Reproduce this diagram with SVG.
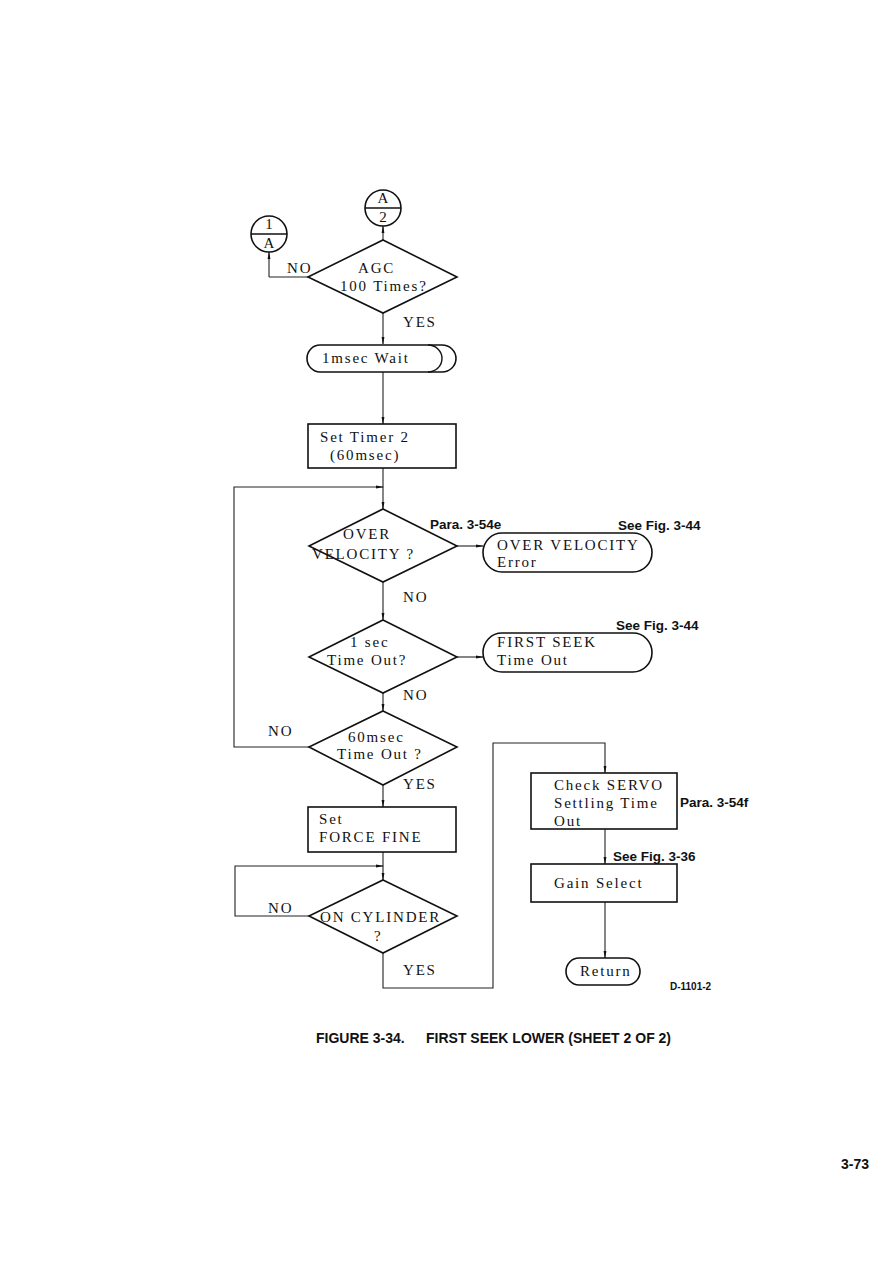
<svg xmlns="http://www.w3.org/2000/svg" width="893" height="1262" viewBox="0 0 893 1262">
<defs>
<marker id="arr" markerWidth="8" markerHeight="4" refX="7" refY="2" orient="auto" markerUnits="userSpaceOnUse">
<path d="M0,0.6 L8,2 L0,3.4 z" fill="#111"/>
</marker>
<style>
.s{fill:none;stroke:#111;stroke-width:1.4}
.b{fill:#fff;stroke:#111;stroke-width:1.6}
.c{fill:none;stroke:#222;stroke-width:1.1}
.t{font-family:"Liberation Serif",serif;font-size:15px;fill:#111;letter-spacing:1.8px}
.n{font-family:"Liberation Serif",serif;font-size:15px;fill:#111}
.l{font-family:"Liberation Sans",sans-serif;font-size:13.5px;font-weight:bold;fill:#111}
.cap{font-family:"Liberation Sans",sans-serif;font-size:14px;font-weight:bold;fill:#111}
</style>
</defs>
<rect width="893" height="1262" fill="#fff"/>

<g id="connectors">
<path class="c" d="M269,277 V252" marker-end="url(#arr)"/>
<path class="c" d="M269,277 H308"/>
<path class="c" d="M383,240 V226" marker-end="url(#arr)"/>
<path class="c" d="M383,313 V344" marker-end="url(#arr)"/>
<path class="c" d="M383,372 V424" marker-end="url(#arr)"/>
<path class="c" d="M383,468 V509" marker-end="url(#arr)"/>
<path class="c" d="M309,747 H234 V487 H383" marker-end="url(#arr)"/>
<path class="c" d="M457,546 H483" marker-end="url(#arr)"/>
<path class="c" d="M383,582 V620" marker-end="url(#arr)"/>
<path class="c" d="M457,657 H483" marker-end="url(#arr)"/>
<path class="c" d="M383,693 V711" marker-end="url(#arr)"/>
<path class="c" d="M383,785 V807" marker-end="url(#arr)"/>
<path class="c" d="M383,852 V880" marker-end="url(#arr)"/>
<path class="c" d="M309,916 H235 V866 H383" marker-end="url(#arr)"/>
<path class="c" d="M383,953 V988 H493 V743 H605 V773" marker-end="url(#arr)"/>
<path class="c" d="M605,829 V864" marker-end="url(#arr)"/>
<path class="c" d="M605,902 V958" marker-end="url(#arr)"/>
</g>

<g id="conA2">
<circle class="b" cx="383" cy="208" r="18"/>
<line class="s" x1="365" y1="208" x2="401" y2="208"/>
<text class="n" x="383" y="203" text-anchor="middle">A</text>
<text class="n" x="383" y="222" text-anchor="middle">2</text>
</g>

<g id="con1A">
<circle class="b" cx="269" cy="234" r="18"/>
<line class="s" x1="251" y1="234" x2="287" y2="234"/>
<text class="n" x="269" y="229" text-anchor="middle">1</text>
<text class="n" x="269" y="248" text-anchor="middle">A</text>
</g>

<g id="agc">
<polygon class="b" points="383,240 457,277 383,313 308,277"/>
<text class="t" x="358" y="273">AGC</text>
<text class="t" x="340" y="291">100 Times?</text>
<text class="t" x="287" y="273">NO</text>
<text class="t" x="403" y="327">YES</text>
</g>

<g id="wait">
<path class="b" d="M320,345 H442 A14,13.5 0 0 1 442,372 H320 A13,13.5 0 0 1 320,345 Z"/>
<path class="s" d="M428,345 A14,13.5 0 0 1 428,372"/>
<text class="t" x="322" y="363">1msec Wait</text>
</g>

<g id="timer">
<rect class="b" x="308" y="424" width="148" height="44"/>
<text class="t" x="320" y="442">Set Timer 2</text>
<text class="t" x="330" y="460">(60msec)</text>
</g>

<g id="overvel">
<polygon class="b" points="383,509 457,546 383,582 309,546"/>
<text class="t" x="343" y="539">OVER</text>
<text class="t" x="312" y="559">VELOCITY ?</text>
<text class="l" x="430" y="529">Para. 3-54e</text>
<text class="t" x="403" y="602">NO</text>
</g>

<g id="overvelerr">
<path class="b" d="M502,533 H633 A19,19.5 0 0 1 633,572 H502 A19,19.5 0 0 1 502,533 Z"/>
<text class="t" x="497" y="550">OVER VELOCITY</text>
<text class="t" x="497" y="567">Error</text>
<text class="l" x="618" y="530">See Fig. 3-44</text>
</g>

<g id="onesec">
<polygon class="b" points="383,620 457,657 383,693 309,657"/>
<text class="t" x="350" y="647">1 sec</text>
<text class="t" x="327" y="665">Time Out?</text>
<text class="t" x="403" y="700">NO</text>
</g>

<g id="firstseek">
<path class="b" d="M502,633 H633 A19,19.5 0 0 1 633,672 H502 A19,19.5 0 0 1 502,633 Z"/>
<text class="t" x="497" y="647">FIRST SEEK</text>
<text class="t" x="497" y="665">Time Out</text>
<text class="l" x="616" y="630">See Fig. 3-44</text>
</g>

<g id="sixtyms">
<polygon class="b" points="383,711 457,747 383,785 309,747"/>
<text class="t" x="348" y="742">60msec</text>
<text class="t" x="337" y="759">Time Out ?</text>
<text class="t" x="268" y="736">NO</text>
<text class="t" x="403" y="789">YES</text>
</g>

<g id="forcefine">
<rect class="b" x="308" y="807" width="148" height="45"/>
<text class="t" x="319" y="824">Set</text>
<text class="t" x="319" y="842">FORCE FINE</text>
</g>

<g id="oncyl">
<polygon class="b" points="383,880 457,916 383,953 309,916"/>
<text class="t" x="320" y="922">ON CYLINDER</text>
<text class="t" x="374" y="941">?</text>
<text class="t" x="268" y="913">NO</text>
<text class="t" x="403" y="975">YES</text>
</g>

<g id="servo">
<rect class="b" x="531" y="773" width="146" height="56"/>
<text class="t" x="554" y="790">Check SERVO</text>
<text class="t" x="554" y="808">Settling Time</text>
<text class="t" x="554" y="826">Out</text>
<text class="l" x="680" y="807">Para. 3-54f</text>
</g>

<g id="gain">
<rect class="b" x="531" y="864" width="146" height="38"/>
<text class="t" x="554" y="888">Gain Select</text>
<text class="l" x="613" y="861">See Fig. 3-36</text>
</g>

<g id="return">
<path class="b" d="M579,958 H627 A13,13.5 0 0 1 627,985 H579 A13,13.5 0 0 1 579,958 Z"/>
<text class="t" x="580" y="976">Return</text>
</g>

<text class="l" x="670" y="990" style="font-size:10px">D-1101-2</text>
<text class="cap" x="316" y="1043">FIGURE 3-34.</text>
<text class="cap" x="426" y="1043">FIRST SEEK LOWER (SHEET 2 OF 2)</text>
<text class="cap" x="841" y="1169">3-73</text>
</svg>
